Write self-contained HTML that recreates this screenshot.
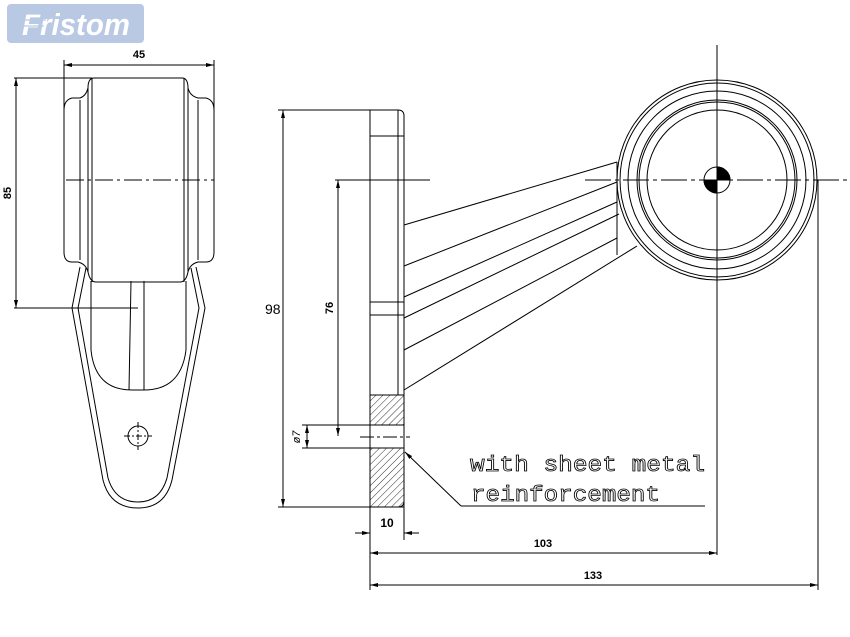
<!DOCTYPE html>
<html><head><meta charset="utf-8"><style>
html,body{margin:0;padding:0;background:#fff;}
svg{display:block}
text{font-family:"Liberation Sans",sans-serif;}
</style></head><body>
<svg width="850" height="637" viewBox="0 0 850 637" xmlns="http://www.w3.org/2000/svg">
<defs>
<marker id="a" markerWidth="8" markerHeight="6" refX="8" refY="3" orient="auto-start-reverse" markerUnits="userSpaceOnUse"><path d="M0,1 L8,3 L0,5z" fill="#000"/></marker>
<pattern id="h" width="5" height="5" patternUnits="userSpaceOnUse" patternTransform="rotate(45)"><line x1="0" y1="0" x2="0" y2="5" stroke="#333" stroke-width="1"/></pattern>
</defs>
<!-- logo -->
<rect x="7" y="4" width="137" height="39" rx="4" fill="#b9c9e4"/>
<text x="22" y="35" font-size="31" font-weight="bold" font-style="italic" fill="#fff" textLength="108" lengthAdjust="spacingAndGlyphs">Fristom</text>
<g stroke="#b9c9e4" stroke-width="1.2"><line x1="14" y1="14" x2="50" y2="14"/><line x1="14" y1="20" x2="46" y2="20"/><line x1="14" y1="26" x2="44" y2="26"/></g>

<g fill="none" stroke="#000" stroke-width="1">
<!-- left view -->
<line x1="64" y1="60" x2="64" y2="200"/><line x1="214" y1="60" x2="214" y2="200"/>
<line x1="64" y1="65" x2="214" y2="65" marker-start="url(#a)" marker-end="url(#a)"/>
<line x1="14" y1="78" x2="92" y2="78"/><line x1="14" y1="308" x2="138" y2="308"/>
<line x1="16" y1="78" x2="16" y2="308" marker-start="url(#a)" marker-end="url(#a)"/>
<path d="M88,88 Q88,78 94,78 L182,78 Q188,78 188,88 Q190,96 198,98 L206,98 Q214,100 214,110 L214,252 Q214,262 206,262 L198,262 Q190,264 188,272 Q186,282 180,282 L96,282 Q90,282 88,272 Q86,264 78,262 L72,262 Q64,262 64,252 L64,110 Q64,100 72,98 L80,98 Q86,96 88,88Z"/>
<line x1="88" y1="88" x2="88" y2="272"/><line x1="92" y1="78" x2="92" y2="282"/>
<line x1="188" y1="88" x2="188" y2="272"/><line x1="184" y1="78" x2="184" y2="282"/>
<line x1="80" y1="100" x2="80" y2="260"/><line x1="198" y1="100" x2="198" y2="260"/>
<line x1="66" y1="180" x2="214" y2="180" stroke-dasharray="18,4,3,4"/>
<path d="M80,267 L72,308 L103,480 Q110,508 138,508 Q165,508 172,480 L205,308 L196,267"/>
<path d="M86,268 L78,308 L108,478 Q115,502 138,502 Q160,502 167,478 L199,308 L191,268"/>
<path d="M91,281 L91,350 Q95,390 132,390 L144,390 Q181,390 186,350 L186,281"/>
<line x1="131" y1="281" x2="129" y2="390"/><line x1="144" y1="281" x2="144" y2="390"/>
<circle cx="138" cy="436" r="10"/>
<line x1="124" y1="436" x2="152" y2="436" stroke-dasharray="6,2,2,2"/><line x1="138" y1="422" x2="138" y2="450" stroke-dasharray="6,2,2,2"/>

<!-- plate -->
<path d="M370,110 L398,110 Q404,110 404,116 L404,501 Q404,507 398,507 L370,507 Z"/>
<rect x="370" y="395" width="34" height="30" fill="url(#h)" stroke="#000"/>
<rect x="370" y="448" width="34" height="59" fill="url(#h)" stroke="#000"/>
<line x1="398" y1="110" x2="398" y2="395"/>
<line x1="370" y1="136" x2="404" y2="136"/><line x1="370" y1="302" x2="404" y2="302"/><line x1="370" y1="315" x2="404" y2="315"/>
<line x1="360" y1="437" x2="410" y2="437" stroke-dasharray="14,3,3,3"/>
<!-- arms -->
<line x1="404" y1="225" x2="617" y2="162"/>
<line x1="404" y1="266" x2="617" y2="182"/>
<line x1="404" y1="297" x2="617" y2="202"/>
<line x1="404" y1="318" x2="619" y2="214"/>
<line x1="404" y1="350" x2="617" y2="238"/>
<line x1="404" y1="390" x2="637" y2="246"/>
<line x1="617" y1="162" x2="617" y2="255"/>
<!-- circles -->
<circle cx="717" cy="180" r="100"/><circle cx="717" cy="180" r="97"/>
<circle cx="717" cy="180" r="89"/><circle cx="717" cy="180" r="80"/>
<circle cx="717" cy="180" r="78"/><circle cx="717" cy="180" r="70"/>
<circle cx="717" cy="180" r="13"/>
<path d="M717,167 A13,13 0 0 1 730,180 L717,180Z M717,193 A13,13 0 0 1 704,180 L717,180Z" fill="#000"/>
<line x1="717" y1="45" x2="717" y2="555"/>
<line x1="585" y1="180" x2="850" y2="180" stroke-dasharray="26,4,4,4"/>
<line x1="818" y1="180" x2="818" y2="590"/>
<line x1="335" y1="180" x2="430" y2="180"/>

<!-- dims -->
<line x1="278" y1="110" x2="370" y2="110"/><line x1="278" y1="507" x2="370" y2="507"/>
<line x1="283" y1="110" x2="283" y2="507" marker-start="url(#a)" marker-end="url(#a)"/>
<line x1="338" y1="180" x2="338" y2="436" marker-start="url(#a)" marker-end="url(#a)"/>
<line x1="302" y1="425" x2="404" y2="425"/><line x1="302" y1="448" x2="404" y2="448"/>
<line x1="307" y1="425" x2="307" y2="448" marker-start="url(#a)" marker-end="url(#a)"/>
<line x1="370" y1="507" x2="370" y2="590"/><line x1="404" y1="507" x2="404" y2="540"/>
<line x1="355" y1="533" x2="370" y2="533" marker-end="url(#a)"/><line x1="419" y1="533" x2="404" y2="533" marker-end="url(#a)"/>
<line x1="370" y1="553" x2="717" y2="553" marker-start="url(#a)" marker-end="url(#a)"/>
<line x1="370" y1="585" x2="818" y2="585" marker-start="url(#a)" marker-end="url(#a)"/>
<line x1="461" y1="506" x2="705" y2="506"/>
<line x1="461" y1="506" x2="405" y2="452" marker-end="url(#a)"/>
</g>

<g font-size="11" font-weight="bold" fill="#000">
<text x="139" y="58" text-anchor="middle">45</text>
<text transform="translate(11,193) rotate(-90)" text-anchor="middle">85</text>
<text transform="translate(333,308) rotate(-90)" text-anchor="middle">76</text>
<text transform="translate(300,437) rotate(-90)" text-anchor="middle" font-weight="normal" font-style="italic">ø7</text>
<text x="387" y="527" text-anchor="middle" font-size="12">10</text>
<text x="543" y="547" text-anchor="middle">103</text>
<text x="593" y="579" text-anchor="middle">133</text>
</g>
<text x="265" y="314" font-size="14" fill="#000">98</text>
<g font-size="22" fill="#fff" stroke="#000" stroke-width="0.8">
<text x="470" y="471" style="font-family:'Liberation Mono',monospace" textLength="235" lengthAdjust="spacingAndGlyphs">with sheet metal</text>
<text x="471" y="501" style="font-family:'Liberation Mono',monospace" textLength="189" lengthAdjust="spacingAndGlyphs">reinforcement</text>
</g>
</svg>
</body></html>
